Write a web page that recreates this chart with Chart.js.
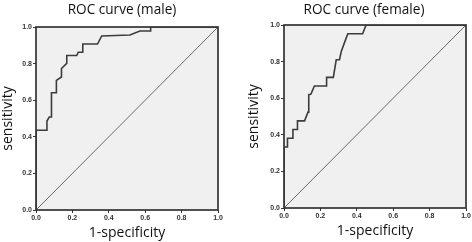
<!DOCTYPE html>
<html>
<head>
<meta charset="utf-8">
<script src="https://cdn.jsdelivr.net/npm/chart.js@4.4.1/dist/chart.umd.min.js"></script>
<style>
  html, body { margin: 0; padding: 0; background: #ffffff; width: 472px; height: 242px; overflow: hidden; }
  .box { position: absolute; top: 0; width: 236px; height: 242px; }
  #b1 { left: 0; }
  #b2 { left: 236px; }
</style>
</head>
<body>
<div class="box" id="b1"><canvas id="c1" width="236" height="242"></canvas></div>
<div class="box" id="b2"><canvas id="c2" width="236" height="242"></canvas></div>
<script>
// ---- data ----
const chartTitles = ['ROC curve (male)', 'ROC curve (female)'];
const xAxisTitle = '1-specificity';
const yAxisTitle = 'sensitivity';
const axisTicks = [0.0, 0.2, 0.4, 0.6, 0.8, 1.0];

const maleFpr = [0, 0, 0.060, 0.060, 0.073, 0.085, 0.085, 0.112, 0.112, 0.140, 0.140, 0.169, 0.169, 0.224, 0.232, 0.257, 0.257, 0.338, 0.361, 0.516, 0.571, 0.630, 0.630, 1.0];
const maleTpr = [0, 0.436, 0.436, 0.486, 0.508, 0.508, 0.641, 0.641, 0.708, 0.727, 0.773, 0.801, 0.844, 0.844, 0.862, 0.862, 0.907, 0.907, 0.951, 0.956, 0.978, 0.978, 1.0, 1.0];

const femaleFpr = [0, 0, 0.019, 0.019, 0.049, 0.049, 0.074, 0.074, 0.113, 0.132, 0.136, 0.148, 0.167, 0.234, 0.234, 0.271, 0.287, 0.305, 0.315, 0.341, 0.351, 0.432, 0.451, 1.0];
const femaleTpr = [0, 0.333, 0.333, 0.381, 0.381, 0.429, 0.429, 0.476, 0.476, 0.524, 0.619, 0.622, 0.667, 0.667, 0.714, 0.714, 0.810, 0.810, 0.857, 0.927, 0.952, 0.952, 1.0, 1.0];

const refFpr = [0, 1];
const refTpr = [0, 1];

function toPoints(xs, ys) { return xs.map((x, i) => ({ x: x, y: ys[i] })); }

const framePlugin = {
  id: 'frame',
  beforeDatasetsDraw(chart) {
    const a = chart.chartArea, ctx = chart.ctx;
    ctx.save();
    ctx.fillStyle = '#f0f0f0';
    ctx.fillRect(a.left, a.top, a.right - a.left, a.bottom - a.top);
    ctx.restore();
  },
  afterDatasetsDraw(chart) {
    const a = chart.chartArea, ctx = chart.ctx;
    ctx.save();
    ctx.strokeStyle = '#333333';
    ctx.lineWidth = 1.7;
    ctx.strokeRect(a.left, a.top, a.right - a.left, a.bottom - a.top);
    ctx.restore();
  },
  afterDraw(chart) {
    const o = chart.options.plugins.frame;
    const ctx = chart.ctx;
    ctx.save();
    ctx.font = '13.6px "Open Sans"';
    ctx.fillStyle = '#111';
    ctx.textAlign = 'center';
    ctx.textBaseline = 'alphabetic';
    ctx.fillText(o.title, o.titleX, o.titleY);
    ctx.restore();
  }
};

function makeChart(id, fpr, tpr, title, geom) {
  return new Chart(document.getElementById(id), {
    type: 'scatter',
    data: {
      datasets: [
        { data: toPoints(fpr, tpr), showLine: true, borderColor: '#3c3c3c', borderWidth: 1.6, pointRadius: 0, tension: 0, order: 1 },
        { data: toPoints(refFpr, refTpr), showLine: true, borderColor: '#6a6a6a', borderWidth: 1, pointRadius: 0, tension: 0, order: 2 }
      ]
    },
    options: {
      responsive: false,
      animation: false,
      devicePixelRatio: 1,
      layout: { padding: { left: geom.padLeft, top: geom.top, right: geom.padRight, bottom: 0 } },
      plugins: {
        legend: { display: false },
        tooltip: { enabled: false },
        frame: { title: title, titleX: geom.titleX, titleY: 14 }
      },
      scales: {
        x: {
          type: 'linear', min: 0, max: 1,
          afterBuildTicks(s) { s.ticks = axisTicks.map(v => ({ value: v })); },
          afterFit(s) { s.height = geom.xh; },
          ticks: { font: { family: 'Liberation Sans', size: 7, weight: 'bold' }, color: '#333', padding: 1, maxRotation: 0, callback: v => v.toFixed(1) },
          grid: { drawOnChartArea: false, drawTicks: true, tickLength: 3, color: '#333', lineWidth: 1 },
          border: { display: false },
          title: { display: true, text: xAxisTitle, font: { family: 'Open Sans', size: 14 }, color: '#111', padding: { top: 0, bottom: geom.xtPad } }
        },
        y: {
          type: 'linear', min: 0, max: 1,
          afterBuildTicks(s) { s.ticks = axisTicks.map(v => ({ value: v })); },
          afterFit(s) { s.width = geom.yw; },
          ticks: { font: { family: 'Liberation Sans', size: 7, weight: 'bold' }, color: '#333', padding: 1, callback: v => v.toFixed(1) },
          grid: { drawOnChartArea: false, drawTicks: true, tickLength: 3, color: '#333', lineWidth: 1 },
          border: { display: false },
          title: { display: true, text: yAxisTitle, font: { family: 'Open Sans', size: 14 }, color: '#111', padding: { top: 0, bottom: 0 } }
        }
      }
    },
    plugins: [framePlugin]
  });
}

makeChart('c1', maleFpr, maleTpr, chartTitles[0], { padLeft: 0, yw: 36, top: 27, padRight: 18, xh: 32, xtPad: 1, titleX: 122 });
makeChart('c2', femaleFpr, femaleTpr, chartTitles[1], { padLeft: 10, yw: 38, top: 25, padRight: 6, xh: 34, xtPad: 3, titleX: 128 });
</script>
</body>
</html>
